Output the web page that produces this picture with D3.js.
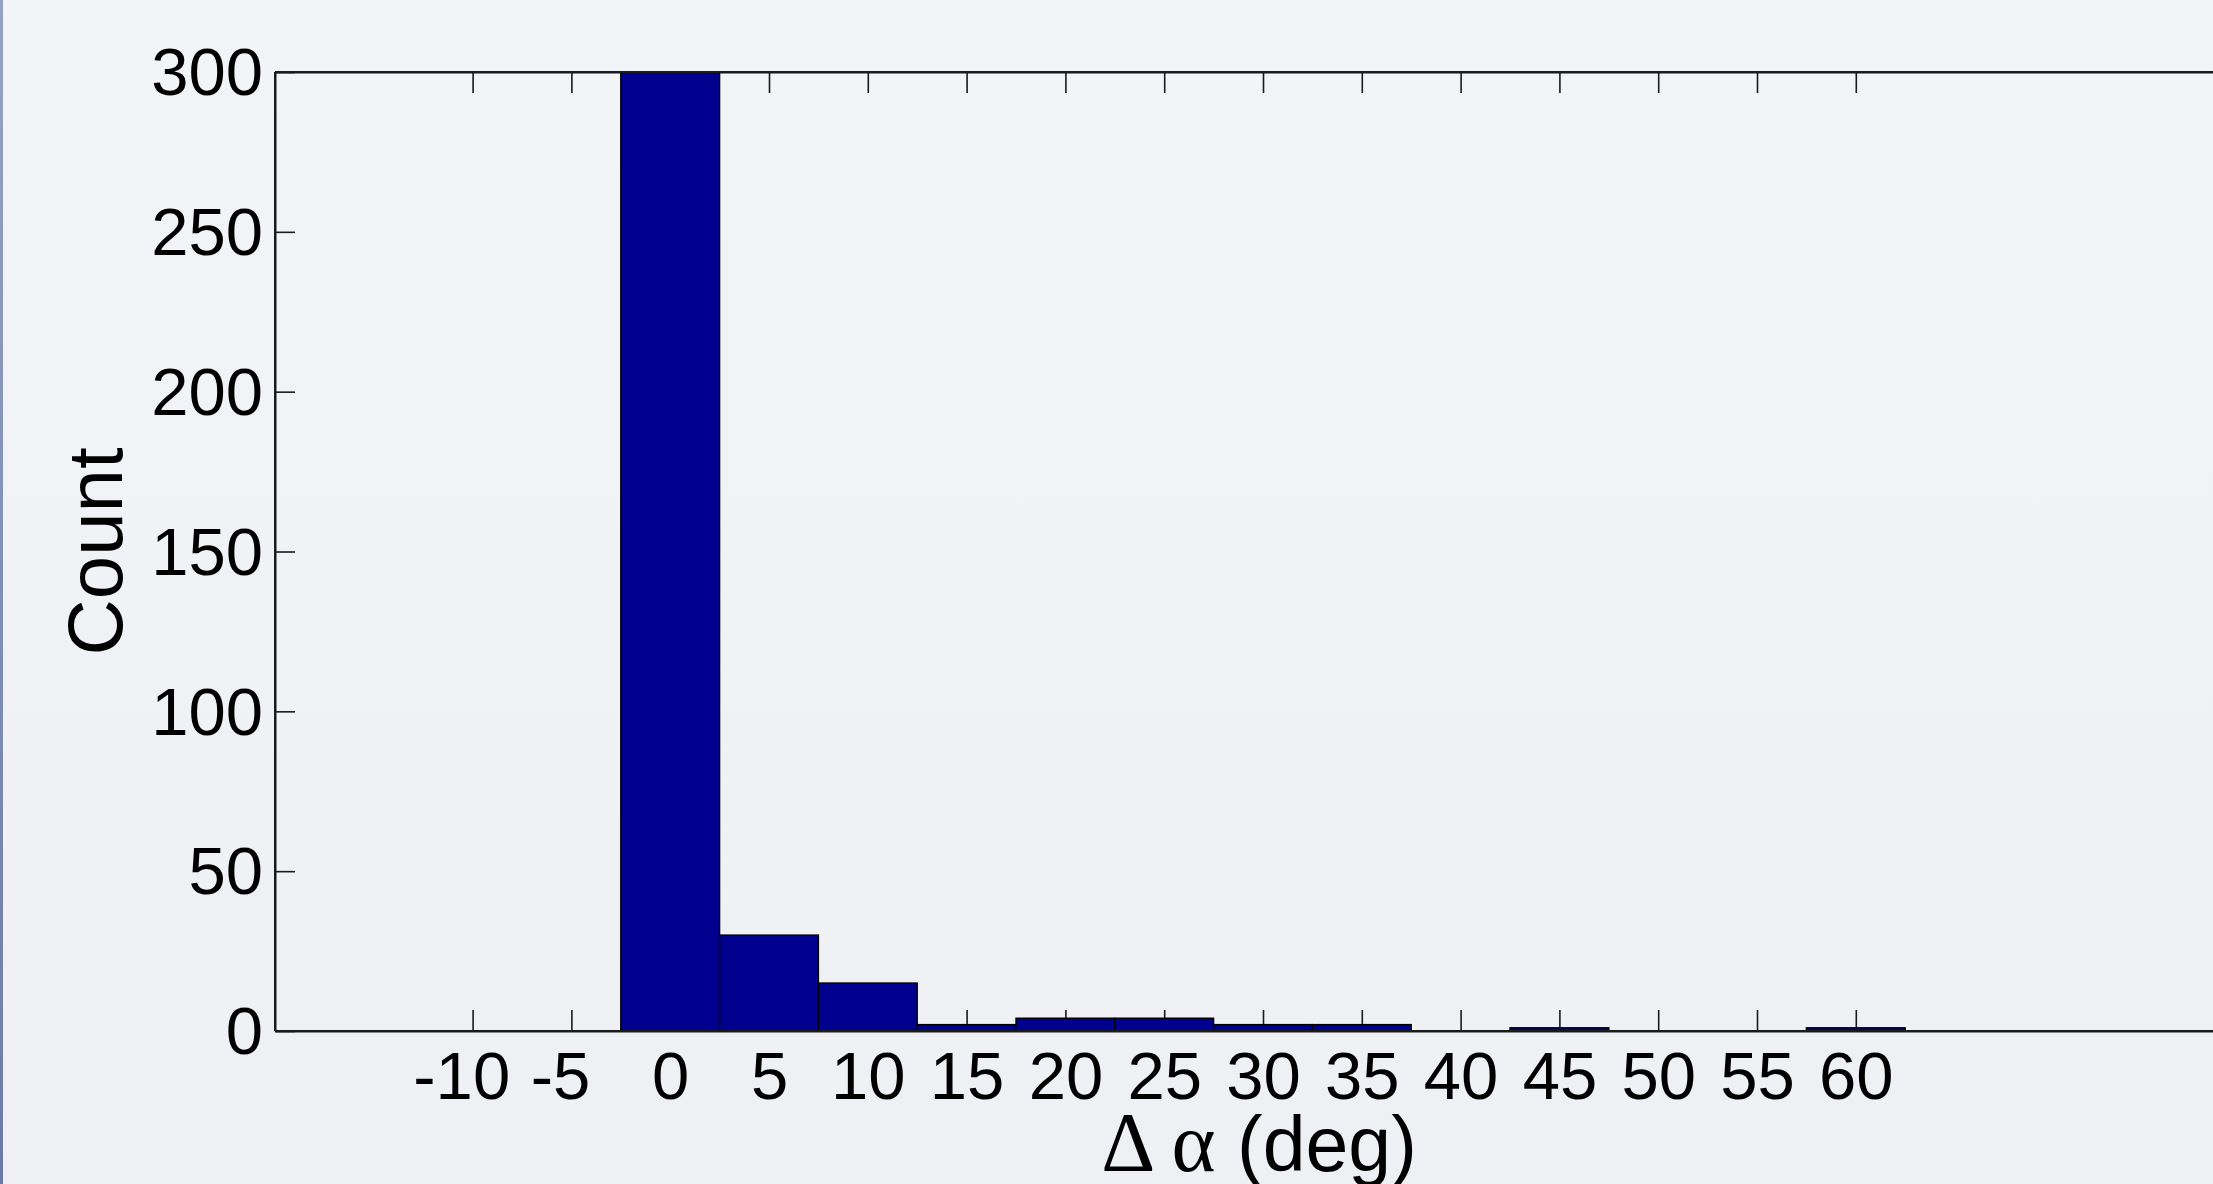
<!DOCTYPE html>
<html>
<head>
<meta charset="utf-8">
<script src="https://cdn.jsdelivr.net/npm/d3@7/dist/d3.min.js"></script>
<style>
  html, body { margin: 0; padding: 0; overflow: hidden; background: #f1f2f5; }
  svg { display: block; }
</style>
</head>
<body>
<svg id="chart" width="2213" height="1184"></svg>
<script>
// ---- data ----
const binCenters = [0, 5, 10, 15, 20, 25, 30, 35, 40, 45, 50, 55, 60];
const counts     = [300, 30, 15, 2, 4, 4, 2, 2, 0, 1, 0, 0, 1];
const binWidth = 5;
const xTicks = [-10, -5, 0, 5, 10, 15, 20, 25, 30, 35, 40, 45, 50, 55, 60];
const yTicks = [0, 50, 100, 150, 200, 250, 300];
const xDomain = [-20, 80];
const yDomain = [0, 300];
const yLabel = "Count";
const xLabelSymbols = ["\u0394", "\u03B1"];
const xLabelUnit = "(deg)";

(function () {
// ---- layout ----
const W = 2213, H = 1184;
const mLeft = 275, mTop = 72, mBottom = 1031, mRight = 2251;

const svg = d3.select("#chart");

// background
const defs = svg.append("defs");
const bg = defs.append("linearGradient").attr("id", "bg").attr("x1", 0).attr("y1", 0).attr("x2", 0).attr("y2", 1);
bg.append("stop").attr("offset", "0%").attr("stop-color", "#f3f4f7");
bg.append("stop").attr("offset", "100%").attr("stop-color", "#eef0f4");
const strip = defs.append("linearGradient").attr("id", "strip").attr("x1", 0).attr("y1", 0).attr("x2", 0).attr("y2", 1);
strip.append("stop").attr("offset", "0%").attr("stop-color", "#95a3c3");
strip.append("stop").attr("offset", "100%").attr("stop-color", "#6a7ca6");
svg.append("rect").attr("width", W).attr("height", H).attr("fill", "url(#bg)");
svg.append("rect").attr("width", 3).attr("height", H).attr("fill", "url(#strip)");

const x = d3.scaleLinear().domain(xDomain).range([mLeft, mRight]);
const y = d3.scaleLinear().domain(yDomain).range([mBottom, mTop]);

const fontTick = "'Liberation Sans', Arial, Helvetica, sans-serif";
const plainFmt = d => String(d);

// bottom axis
const gx = svg.append("g").attr("transform", `translate(0,${mBottom})`)
  .call(d3.axisBottom(x).tickValues(xTicks).tickFormat(plainFmt).tickSize(-21).tickSizeOuter(0).tickPadding(20));
// top axis (mirror ticks)
const gxt = svg.append("g").attr("transform", `translate(0,${mTop})`)
  .call(d3.axisTop(x).tickValues(xTicks).tickSize(-21).tickSizeOuter(0).tickFormat(""));
// left axis
const gy = svg.append("g").attr("transform", `translate(${mLeft},0)`)
  .call(d3.axisLeft(y).tickValues(yTicks).tickFormat(plainFmt).tickSize(-20).tickSizeOuter(0).tickPadding(12));

[gx, gxt, gy].forEach(g => {
  g.selectAll("path.domain").attr("stroke", "#1a1a1a").attr("stroke-width", 2);
  g.selectAll(".tick line").attr("stroke", "#1a1a1a").attr("stroke-width", 1.6);
  g.selectAll(".tick text")
    .attr("fill", "#000")
    .style("font-family", fontTick)
    .style("font-size", "67px");
});
gy.selectAll(".tick text").attr("dy", "0.34em");
// digits of negative labels are centred on the tick (minus sign hangs left)
gx.selectAll(".tick text").attr("dx", d => d < 0 ? "-0.17em" : null);

// bars
svg.append("g").selectAll("rect")
  .data(binCenters.map((c, i) => ({c, v: counts[i]})).filter(d => d.v > 0))
  .join("rect")
  .attr("x", d => x(d.c - binWidth / 2))
  .attr("width", d => x(d.c + binWidth / 2) - x(d.c - binWidth / 2))
  .attr("y", d => y(d.v))
  .attr("height", d => y(0) - y(d.v))
  .attr("fill", "#00008f")
  .attr("stroke", "#000")
  .attr("stroke-width", 1.4);

// redraw the axis lines on top of bars
svg.append("line").attr("x1", mLeft).attr("x2", mRight).attr("y1", mBottom).attr("y2", mBottom)
  .attr("stroke", "#1a1a1a").attr("stroke-width", 2);
svg.append("line").attr("x1", mLeft).attr("x2", mRight).attr("y1", mTop).attr("y2", mTop)
  .attr("stroke", "#1a1a1a").attr("stroke-width", 2);
svg.append("line").attr("x1", mLeft).attr("x2", mLeft).attr("y1", mTop).attr("y2", mBottom)
  .attr("stroke", "#1a1a1a").attr("stroke-width", 2);

// y label
svg.append("text")
  .attr("transform", `translate(122,${(mTop + mBottom) / 2}) rotate(-90)`)
  .attr("text-anchor", "middle")
  .style("font-family", fontTick)
  .style("font-size", "78px")
  .attr("fill", "#000")
  .text(yLabel);

// x label
const xl = svg.append("text")
  .attr("x", (mLeft + mRight) / 2 - 4)
  .attr("y", 1171)
  .attr("text-anchor", "middle")
  .style("font-size", "77px")
  .attr("fill", "#000");
xl.append("tspan").style("font-family", "'Liberation Serif', 'Times New Roman', serif").style("font-size", "84px")
  .text(xLabelSymbols[0] + " " + xLabelSymbols[1]);
xl.append("tspan").style("font-family", fontTick).text(" " + xLabelUnit);
})();
</script>
</body>
</html>
